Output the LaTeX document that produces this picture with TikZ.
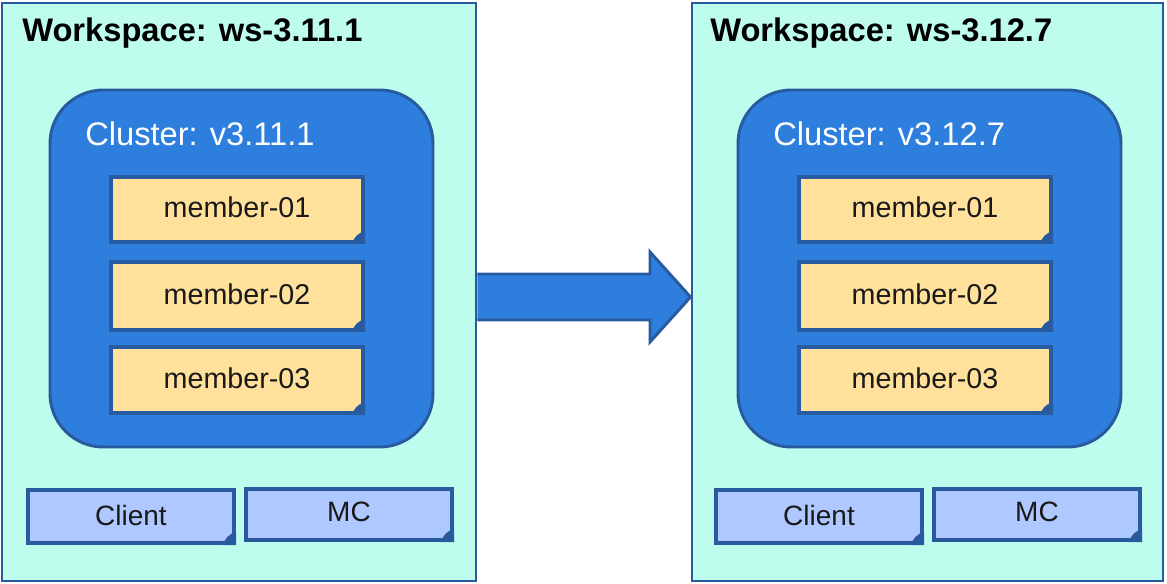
\documentclass[tikz,border=0pt]{standalone}
\usepackage{fontspec}
\setmainfont{Liberation Sans}
\usetikzlibrary{fit}
\definecolor{aqua}{RGB}{190,252,238}
\definecolor{bordc}{RGB}{40,90,160}
\definecolor{clblue}{RGB}{46,126,222}
\definecolor{memfill}{RGB}{255,225,155}
\definecolor{clifill}{RGB}{175,200,255}
\definecolor{txt}{RGB}{25,25,25}
\begin{document}
\begin{tikzpicture}[x=0.75pt,y=-0.75pt,
  wsbox/.style={draw=bordc,line width=2.2pt,fill=aqua,inner sep=0pt},
  clbox/.style={draw=bordc,line width=2.2pt,fill=clblue,inner sep=0pt,rounded corners=40pt},
  membox/.style={draw=bordc,line width=3pt,fill=memfill,inner sep=0pt},
  clibox/.style={draw=bordc,line width=3pt,fill=clifill,inner sep=0pt},
  boxtext/.style={text=txt,font=\fontsize{21.5pt}{24pt}\selectfont},
  fold/.style={fill=bordc},
  wstitle/.style={anchor=base west,inner sep=0pt,text=black,font=\fontsize{24.5pt}{28pt}\selectfont\bfseries},
  cltitle/.style={anchor=base west,inner sep=0pt,text=white,font=\fontsize{24.5pt}{28pt}\selectfont},
  arr/.style={draw=bordc,line width=2.2pt,fill=clblue,line join=miter}]
\useasboundingbox (0,0) rectangle (1167,584);
\fill[white] (0,0) rectangle (1167,584);
\foreach \dx/\i/\ver/\wsn/\wr in {0/1/v3.11.1/ws-3.11.1/476, 688/2/v3.12.7/ws-3.12.7/1163}{
  \node[wsbox,fit={(2+\dx+2*\i-2,3) (\wr,581)}] (ws\i) {};
  \node[wstitle] (wst\i) at (22+\dx,42) {Workspace:\space\wsn};
  \node[clbox,fit={(50+\dx,90) (433+\dx,447)}] (cl\i) {};
  \node[cltitle] (clt\i) at (85+\dx,146) {Cluster:\space\ver};
  \foreach \j/\yt/\yb in {1/177/242, 2/262/330, 3/347/413}{
    \node[membox,fit={(111+\dx,\yt) (363+\dx,\yb)}] (m\i\j) {};
    \node[boxtext] (mt\i\j) at ([yshift=1.5pt]m\i\j.center) {member-0\j};
    \fill[fold] ([xshift=-10pt]m\i\j.south east) to[bend left=25] ([yshift=10pt]m\i\j.south east) -- (m\i\j.south east) -- cycle;
  }
  \node[clibox,fit={(28+\dx,490) (234+\dx,543)}] (cli\i) {};
  \node[boxtext,font=\fontsize{21pt}{24pt}\selectfont] (clit\i) at ([yshift=1pt]cli\i.center) {Client};
  \fill[fold] ([xshift=-10pt]cli\i.south east) to[bend left=25] ([yshift=10pt]cli\i.south east) -- (cli\i.south east) -- cycle;
  \node[clibox,fit={(246+\dx,489) (452+\dx,540)}] (mc\i) {};
  \node[boxtext,font=\fontsize{21pt}{24pt}\selectfont] (mct\i) at ([yshift=2pt]mc\i.center) {MC};
  \fill[fold] ([xshift=-10pt]mc\i.south east) to[bend left=25] ([yshift=10pt]mc\i.south east) -- (mc\i.south east) -- cycle;
}
\draw[arr] (ws1.east |- 0,274) -- (650,274) -- (650,252) -- (ws2.west |- 0,297) -- (650,342) -- (650,320) -- (ws1.east |- 0,320);
\end{tikzpicture}
\end{document}
